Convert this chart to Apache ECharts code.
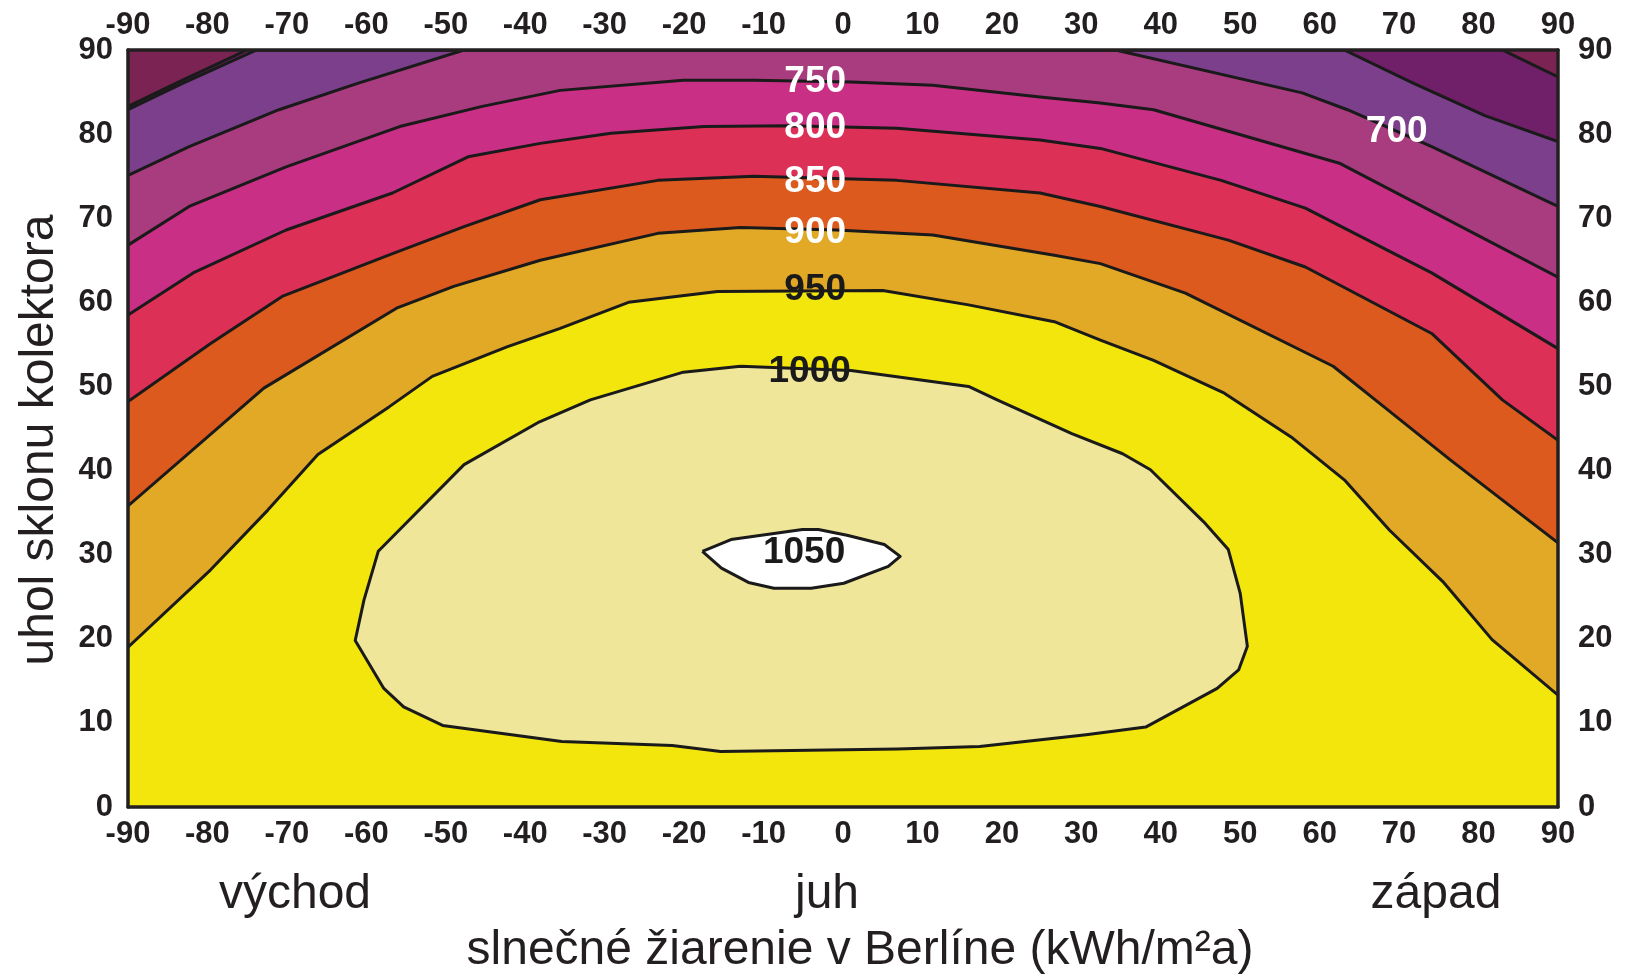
<!DOCTYPE html>
<html><head><meta charset="utf-8">
<script src="https://cdn.jsdelivr.net/npm/echarts@6/dist/echarts.min.js"></script>
<style>html,body{margin:0;padding:0;background:#fff}#c{width:1632px;height:976px}</style>
</head><body><div id="c"></div>
<script>
// contour levels (kWh/m2a) and the fill colour of the band at/above each level
const levels = [600, 650, 700, 750, 800, 850, 900, 950, 1000, 1050];
const bandColors = ['#6f2069', '#7b3f8c', '#a93b7f', '#c93085', '#dc3056', '#dc5a1e', '#e1a925', '#f2e60d', '#efe69a', '#ffffff'];
const lowestColor = '#7b2454';

// contour lines as [azimuth, tilt] points
const c600 = [[-90, 83.3], [-83.2, 86.4], [-75, 90], [83, 90], [90, 86.8]];
const c650 = [[-90, 82.9], [-83.2, 86.0], [-73.8, 90], [63.1, 90], [71.9, 86.0], [80.8, 82.2], [90, 79.1]];
const c700 = [[-90, 75.1], [-82.3, 78.5], [-71.0, 82.9], [-61.2, 86.0], [-47.7, 90], [34.3, 90], [57.8, 84.9], [63.5, 82.9], [74.1, 78.5], [90, 71.4]];
const c750 = [[-90, 66.8], [-82.3, 71.4], [-70.1, 76.1], [-55.8, 80.9], [-45.4, 83.3], [-35.6, 85.2], [-20.1, 86.4], [-11.2, 86.4], [1.0, 86.2], [11.3, 85.8], [24.8, 84.4], [32.4, 83.7], [39.1, 82.9], [62.6, 76.5], [90, 63.0]];
const c800 = [[-90, 58.5], [-81.8, 63.5], [-70.1, 68.6], [-56.7, 73.0], [-47.2, 77.3], [-38.1, 78.9], [-29.2, 80.1], [-17.5, 80.9], [-6.7, 81.0], [6.8, 80.7], [24.8, 79.3], [32.4, 78.3], [47.6, 74.5], [58.2, 71.2], [74.1, 63.5], [90, 54.5]];
const c850 = [[-90, 48.2], [-79.6, 55.1], [-70.6, 60.7], [-56.7, 65.8], [-47.7, 69.0], [-38.1, 72.2], [-23.3, 74.5], [-11.2, 75.0], [6.8, 74.5], [24.8, 73.0], [32.4, 71.4], [48.5, 67.4], [58.2, 64.2], [74.1, 56.3], [83.0, 48.4], [90, 43.6]];
const c900 = [[-90, 35.8], [-72.9, 49.8], [-56.2, 59.3], [-49.0, 61.9], [-38.1, 65.0], [-23.3, 68.2], [-12.9, 68.9], [-0.8, 68.6], [11.3, 68.0], [26.6, 65.6], [32.4, 64.6], [43.1, 61.1], [61.7, 52.4], [67.0, 48.4], [76.4, 41.3], [90, 31.4]];
const c950 = [[-90, 19.0], [-79.6, 28.2], [-72.4, 35.3], [-66.1, 41.9], [-57.1, 47.6], [-51.7, 51.2], [-42.3, 54.7], [-35.6, 56.9], [-27.0, 60.0], [-15.8, 61.3], [5.0, 61.4], [15.8, 59.7], [26.6, 57.7], [32.4, 55.5], [39.1, 53.1], [48.0, 49.2], [56.4, 44.0], [63.1, 38.9], [68.8, 32.9], [75.5, 26.8], [81.7, 19.9], [90, 13.3]];
const c1000 = [[-12.9, 52.4], [1.0, 51.9], [15.8, 50.0], [19.4, 48.4], [28.8, 44.4], [35.2, 42.0], [38.7, 40.1], [45.4, 33.9], [48.5, 30.6], [50.0, 25.4], [50.9, 19.1], [49.8, 16.3], [47.1, 14.1], [38.1, 9.5], [30.6, 8.6], [17.2, 7.2], [6.9, 6.9], [-15.4, 6.6], [-21.5, 7.3], [-35.4, 7.8], [-50.4, 9.7], [-55.3, 11.9], [-57.8, 14.1], [-61.4, 19.8], [-60.3, 24.6], [-58.5, 30.4], [-47.7, 40.7], [-38.2, 45.8], [-31.8, 48.4], [-20.1, 51.7]];
const c1050 = [[-17.7, 30.4], [-14.1, 31.8], [-5.1, 33.0], [-3.1, 33.0], [0.5, 32.3], [5.2, 31.2], [7.2, 29.8], [5.7, 28.6], [0.1, 26.6], [-4.0, 26.0], [-8.7, 26.0], [-11.9, 26.7], [-15.3, 28.4]];
const contours = [c600, c650, c700, c750, c800, c850, c900, c950, c1000, c1050];
const closedContour = [false, false, false, false, false, false, false, false, true, true];

// contour value labels: azimuth, tilt, text
const labelAz = [-3.5, -3.5, -3.5, -3.5, -3.5, -4.2, -4.9, 69.7];
const labelTilt = [86.2, 80.7, 74.3, 68.3, 61.5, 51.8, 30.2, 80.3];
const labelText = ['750', '800', '850', '900', '950', '1000', '1050', '700'];
const labelDark = [false, false, false, false, true, true, true, false];

const directionNames = ['východ', 'juh', 'západ'];
const yTitle = 'uhol sklonu kolektora';
const xTitle = 'slnečné žiarenie v Berlíne (kWh/m²a)';

const FONT = '"Liberation Sans", Arial, sans-serif';
const INK = '#231f20';

const chart = echarts.init(document.getElementById('c'), null, {renderer: 'canvas'});

const levelData = levels.map((lv, i) => [i, lv]);
const labelData = labelText.map((t, i) => [labelAz[i], labelTilt[i], i]);

function renderFill(params, api) {
  const i = api.value(0);
  const pts = contours[i].map(p => api.coord(p));
  if (!closedContour[i]) {
    pts.push(api.coord([90, 0]));
    pts.push(api.coord([-90, 0]));
  }
  return {type: 'polygon', shape: {points: pts}, style: {fill: bandColors[i], stroke: null}};
}
function renderLine(params, api) {
  const i = api.value(0);
  const pts = contours[i].map(p => api.coord(p));
  if (closedContour[i]) pts.push(pts[0]);
  return {type: 'polyline', shape: {points: pts}, style: {stroke: '#1a1a1a', lineWidth: 3, fill: null, lineJoin: 'round'}};
}
function renderLabel(params, api) {
  const p = api.coord([api.value(0), api.value(1)]);
  const k = api.value(2);
  return {type: 'text', x: p[0], y: p[1], style: {
    text: labelText[k], fontSize: 37, fontWeight: 'bold', fontFamily: FONT,
    fill: labelDark[k] ? '#1a1a1a' : '#ffffff', align: 'center', verticalAlign: 'middle'
  }};
}

const axisCommon = {
  type: 'value', interval: 10, z: 10,
  axisLine: {show: true, onZero: false, lineStyle: {color: INK, width: 3.5}},
  axisTick: {show: false}, splitLine: {show: false},
  axisLabel: {fontSize: 31, fontWeight: 'bold', color: INK, fontFamily: FONT}
};

const option = {
  backgroundColor: '#ffffff',
  animation: false,
  grid: {left: 128, right: 74, top: 50, bottom: 169, show: true, backgroundColor: lowestColor, borderWidth: 0},
  xAxis: [
    Object.assign({}, axisCommon, {min: -90, max: 90, position: 'bottom', axisLabel: Object.assign({}, axisCommon.axisLabel, {margin: 12})}),
    Object.assign({}, axisCommon, {min: -90, max: 90, position: 'top', axisLabel: Object.assign({}, axisCommon.axisLabel, {margin: 9})})
  ],
  yAxis: [
    Object.assign({}, axisCommon, {min: 0, max: 90, position: 'left', axisLabel: Object.assign({}, axisCommon.axisLabel, {margin: 15})}),
    Object.assign({}, axisCommon, {min: 0, max: 90, position: 'right', axisLabel: Object.assign({}, axisCommon.axisLabel, {margin: 20})})
  ],
  series: [
    {type: 'custom', name: 'fills', xAxisIndex: 0, yAxisIndex: 0, z: 2, clip: true, renderItem: renderFill, data: levelData, silent: true},
    {type: 'custom', name: 'lines', xAxisIndex: 0, yAxisIndex: 0, z: 3, clip: true, renderItem: renderLine, data: levelData, silent: true},
    {type: 'custom', name: 'labels', xAxisIndex: 0, yAxisIndex: 0, z: 5, renderItem: renderLabel, data: labelData, silent: true}
  ],
  graphic: [
    {type: 'text', x: 40, y: 440, rotation: Math.PI / 2, style: {text: yTitle, fontSize: 48, fontFamily: FONT, fill: INK, align: 'center', verticalAlign: 'middle'}},
    {type: 'text', x: 295, y: 895, style: {text: directionNames[0], fontSize: 48, fontFamily: FONT, fill: INK, align: 'center', verticalAlign: 'middle'}},
    {type: 'text', x: 827, y: 895, style: {text: directionNames[1], fontSize: 48, fontFamily: FONT, fill: INK, align: 'center', verticalAlign: 'middle'}},
    {type: 'text', x: 1436, y: 895, style: {text: directionNames[2], fontSize: 48, fontFamily: FONT, fill: INK, align: 'center', verticalAlign: 'middle'}},
    {type: 'text', x: 860, y: 951, style: {text: xTitle, fontSize: 48, fontFamily: FONT, fill: INK, align: 'center', verticalAlign: 'middle'}}
  ]
};
chart.setOption(option);
</script>
</body></html>
